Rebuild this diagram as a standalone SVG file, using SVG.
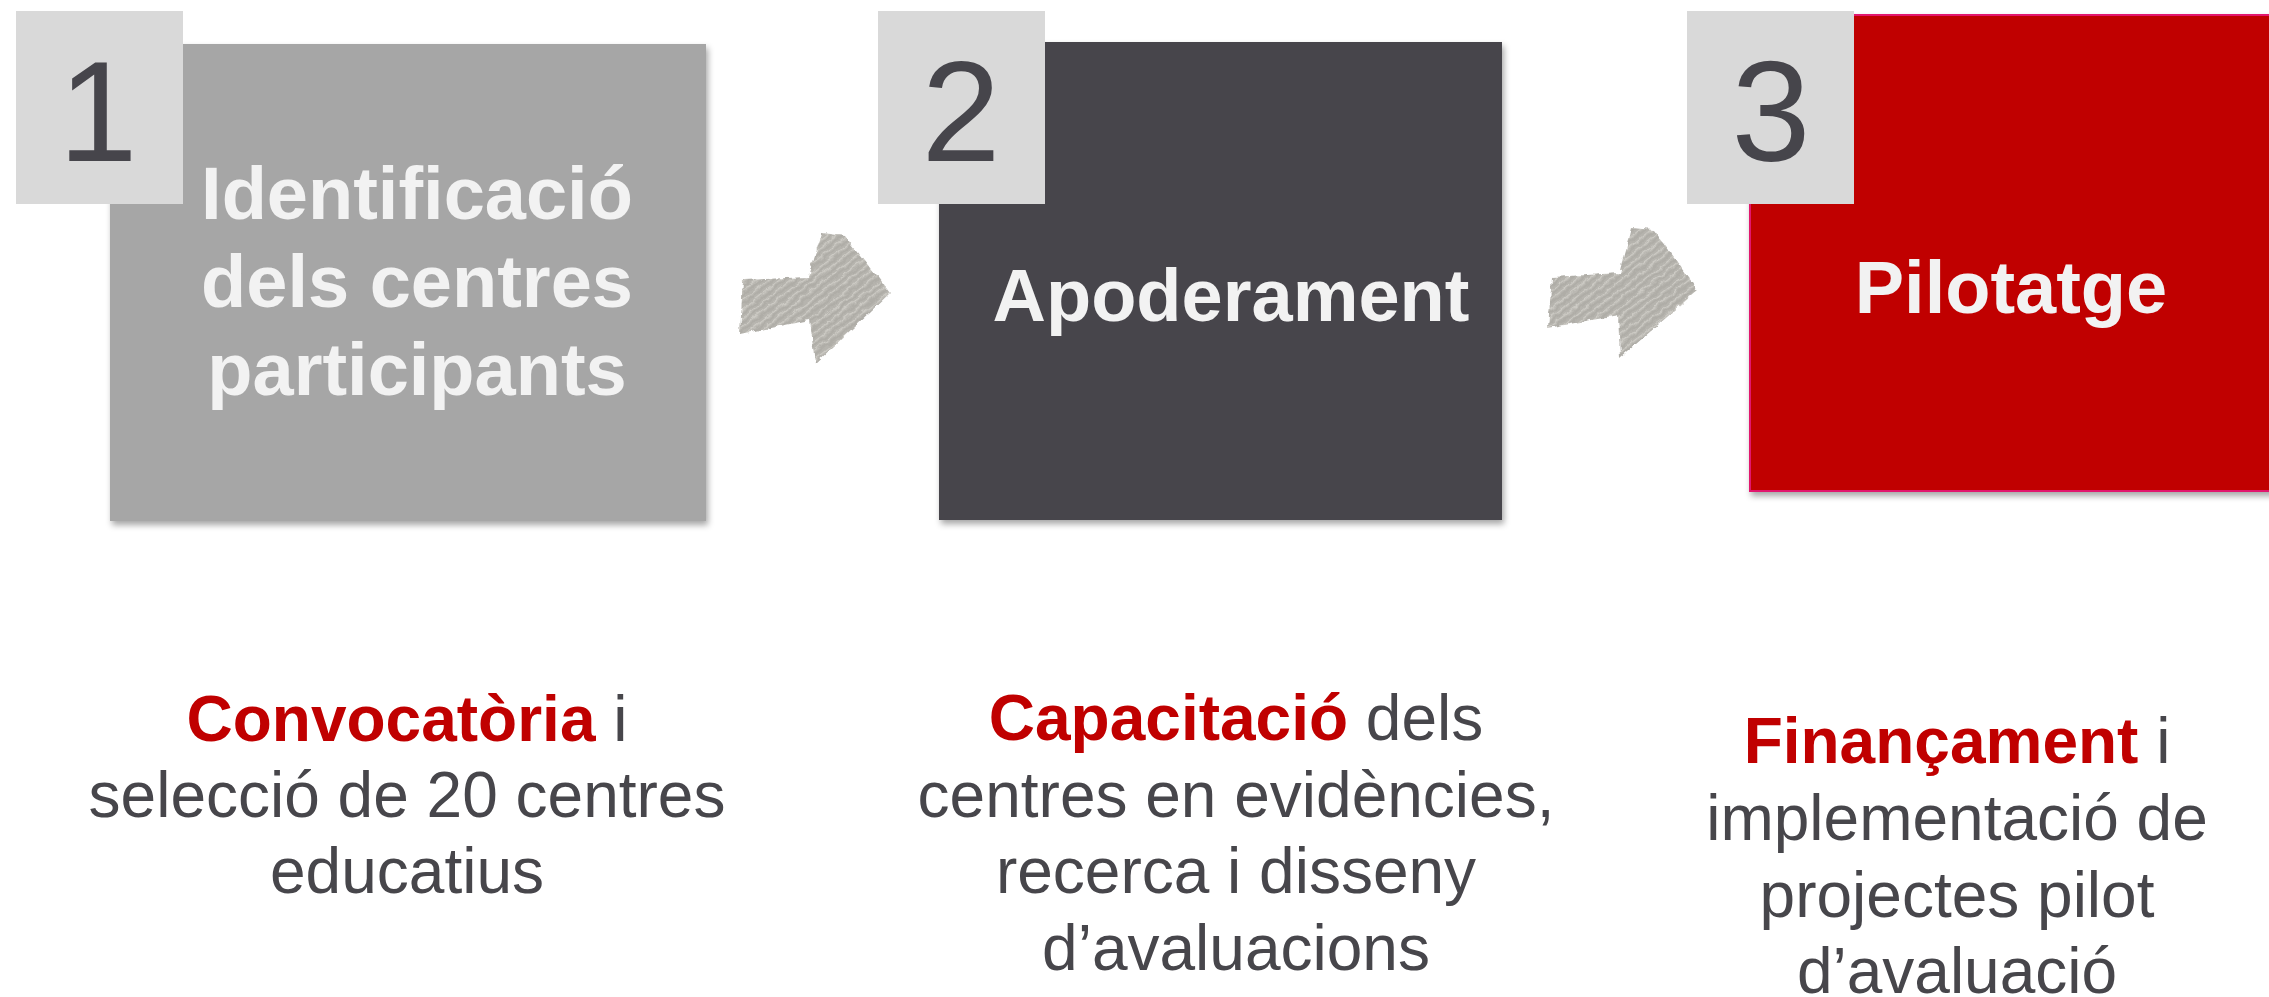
<svg xmlns="http://www.w3.org/2000/svg" width="2269" height="997" viewBox="0 0 2269 997">
<style>
.num{font-family:"Liberation Sans",Arial,sans-serif;font-size:142px;fill:#46454b;text-anchor:middle}
.ttl{font-family:"Liberation Sans",Arial,sans-serif;font-size:74px;font-weight:bold;fill:#f2f2f2;text-anchor:middle}
.desc{font-family:"Liberation Sans",Arial,sans-serif;font-size:64px;fill:#47464b;text-anchor:middle}
.red{font-weight:bold;fill:#c00000}
.tab{fill:#d9d9d9}
</style>
<defs>
<filter id="shadow" x="-5%" y="-5%" width="115%" height="115%">
<feDropShadow dx="2" dy="4" stdDeviation="3" flood-color="#000" flood-opacity="0.35"/>
</filter>
<pattern id="hatch" width="7" height="7" patternUnits="userSpaceOnUse" patternTransform="rotate(-38)">
<rect width="7" height="7" fill="#b6b4ae"/>
<rect y="0" width="7" height="1.4" fill="#cdcbc5"/>
<rect y="3.5" width="7" height="1" fill="#a8a6a0"/>
</pattern>
<filter id="rough" x="-10%" y="-10%" width="120%" height="120%">
<feTurbulence type="fractalNoise" baseFrequency="0.12" numOctaves="2" seed="3" result="n"/>
<feDisplacementMap in="SourceGraphic" in2="n" scale="6" xChannelSelector="R" yChannelSelector="G"/>
</filter>
</defs>
<rect width="2269" height="997" fill="#ffffff"/>

<g id="connectors">
<polygon filter="url(#rough)" fill="url(#hatch)" points="743,280 808,277 822,233 845,236 890,293 815,364 810,320 740,334"/>
<polygon filter="url(#rough)" fill="url(#hatch)" points="1552,277 1620,273 1632,228 1653,230 1698,290 1620,358 1618,315 1548,328"/>
</g>

<g id="node1">
<rect x="110" y="44" width="596" height="477" fill="#a6a6a6" filter="url(#shadow)"/>
<rect class="tab" x="16" y="11" width="167" height="193"/>
<text class="num" x="98" y="161">1</text>
<text class="ttl" x="417" y="219">Identificació</text>
<text class="ttl" x="417" y="307">dels centres</text>
<text class="ttl" x="417" y="395">participants</text>
</g>

<g id="node2">
<rect x="939" y="42" width="563" height="478" fill="#46454b" filter="url(#shadow)"/>
<rect class="tab" x="878" y="11" width="167" height="193"/>
<text class="num" x="961" y="161">2</text>
<text class="ttl" x="1231" y="321">Apoderament</text>
</g>

<g id="node3">
<rect x="1750" y="15" width="540" height="476" fill="#c00000" stroke="#e2146e" stroke-width="2" filter="url(#shadow)"/>
<rect class="tab" x="1687" y="11" width="167" height="193"/>
<text class="num" x="1771" y="161">3</text>
<text class="ttl" x="2011" y="313">Pilotatge</text>
</g>

<g id="desc1">
<text class="desc" x="407" y="741"><tspan class="red">Convocatòria</tspan> i</text>
<text class="desc" x="407" y="817">selecció de 20 centres</text>
<text class="desc" x="407" y="893">educatius</text>
</g>

<g id="desc2">
<text class="desc" x="1236" y="740"><tspan class="red">Capacitació</tspan> dels</text>
<text class="desc" x="1236" y="817">centres en evidències,</text>
<text class="desc" x="1236" y="893">recerca i disseny</text>
<text class="desc" x="1236" y="970">d’avaluacions</text>
</g>

<g id="desc3">
<text class="desc" x="1957" y="763"><tspan class="red">Finançament</tspan> i</text>
<text class="desc" x="1957" y="840">implementació de</text>
<text class="desc" x="1957" y="917">projectes pilot</text>
<text class="desc" x="1957" y="993">d’avaluació</text>
</g>
</svg>
